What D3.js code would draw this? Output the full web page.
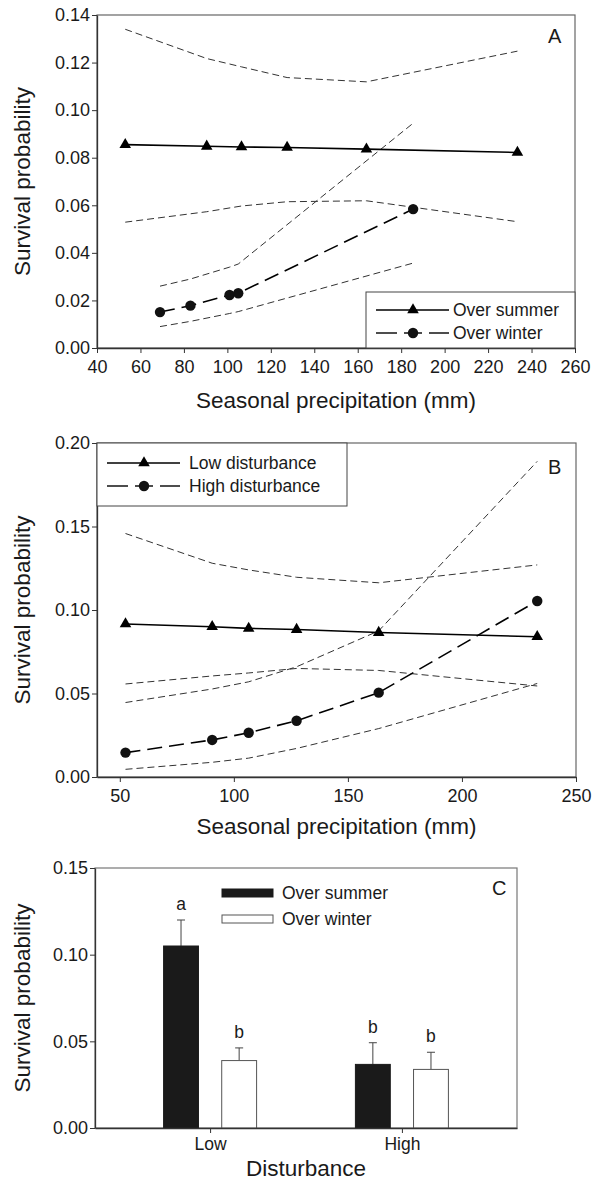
<!DOCTYPE html>
<html>
<head>
<meta charset="utf-8">
<script src="https://cdn.jsdelivr.net/npm/d3@7"></script>
<style>
  body { margin: 0; background: #fff; }
  svg text { font-family: "Liberation Sans", Arial, Helvetica, sans-serif; fill: #1a1a1a; }
</style>
</head>
<body>
<svg id="fig" width="599" height="1183"></svg>
<script>
// ---- panel A: survival vs seasonal precipitation, by season ----
const precipSummerA = [53, 90.5, 106.5, 127.5, 164, 233.5];
const survSummerA = [0.0855, 0.0848, 0.0845, 0.0843, 0.0836, 0.0822];
const summerUpperA = [0.134, 0.1217, 0.1182, 0.1137, 0.1119, 0.1248];
const summerLowerA = [0.0529, 0.0573, 0.0597, 0.0615, 0.0619, 0.0531];

const precipWinterA = [69, 83, 101, 105, 185.5];
const survWinterA = [0.0151, 0.0178, 0.0223, 0.0230, 0.0584];
const winterUpperA = [0.026, 0.029, 0.034, 0.0353, 0.0945];
const winterLowerA = [0.009, 0.0112, 0.0145, 0.0153, 0.0357];

const xTicksA = [40, 60, 80, 100, 120, 140, 160, 180, 200, 220, 240, 260];
const yTicksA = [0, 0.02, 0.04, 0.06, 0.08, 0.10, 0.12, 0.14];

// ---- panel B: survival vs seasonal precipitation, by disturbance ----
const precipB = [52.5, 90.5, 106.5, 127.5, 163.5, 233];
const survLowB = [0.0916, 0.0900, 0.0890, 0.0883, 0.0865, 0.0840];
const lowUpperB = [0.1458, 0.128, 0.124, 0.1196, 0.1163, 0.127];
const lowLowerB = [0.0557, 0.0605, 0.0623, 0.065, 0.0638, 0.0545];
const survHighB = [0.0146, 0.0222, 0.0265, 0.0337, 0.0505, 0.1054];
const highUpperB = [0.0446, 0.0527, 0.057, 0.066, 0.0875, 0.189];
const highLowerB = [0.0046, 0.0088, 0.0113, 0.0171, 0.029, 0.056];

const xTicksB = [50, 100, 150, 200, 250];
const yTicksB = [0, 0.05, 0.10, 0.15, 0.20];

// ---- panel C: bars by disturbance ----
const disturbance = ["Low", "High"];
const summerC = [0.105, 0.0367];
const summerErrC = [0.015, 0.0125];
const winterC = [0.0389, 0.0338];
const winterErrC = [0.0073, 0.0099];
const summerLetters = ["a", "b"];
const winterLetters = ["b", "b"];
const yTicksC = [0, 0.05, 0.10, 0.15];

const svg = d3.select("#fig");
const fmt = d3.format(".2f");

function styleAxis(g, size) {
  g.attr("font-family", "Liberation Sans, Arial, sans-serif")
    .attr("font-size", size)
    .attr("color", "#1a1a1a");
  g.selectAll("line").attr("stroke", "#333");
  g.selectAll("path").attr("stroke", "#333").attr("stroke-width", 1.3);
}

function drawLinePanel(p) {
  const x = d3.scaleLinear().domain(p.xDomain).range([p.left, p.right]);
  const y = d3.scaleLinear().domain(p.yDomain).range([p.bottom, p.top]);
  const g = svg.append("g");
  const line = d3.line().x(d => x(d[0])).y(d => y(d[1]));

  g.append("rect")
    .attr("x", p.left).attr("y", p.top)
    .attr("width", p.right - p.left).attr("height", p.bottom - p.top)
    .attr("fill", "none").attr("stroke", "#666").attr("stroke-width", 1.2);

  // confidence bands
  p.bands.forEach(b => {
    g.append("path")
      .datum(d3.zip(b.x, b.y))
      .attr("d", line)
      .attr("fill", "none")
      .attr("stroke", "#333")
      .attr("stroke-width", 1)
      .attr("stroke-dasharray", "7,4");
  });

  // fitted lines + points
  p.series.forEach(s => {
    const pts = d3.zip(s.x, s.y);
    g.append("path")
      .datum(pts)
      .attr("d", line)
      .attr("fill", "none")
      .attr("stroke", "#000")
      .attr("stroke-width", 1.6)
      .attr("stroke-dasharray", s.dash);
    if (s.symbol === "triangle") {
      g.selectAll(null).data(pts).join("path")
        .attr("transform", d => `translate(${x(d[0])},${y(d[1])})`)
        .attr("d", d3.symbol(d3.symbolTriangle, 58))
        .attr("fill", "#000");
    } else {
      g.selectAll(null).data(pts).join("circle")
        .attr("cx", d => x(d[0])).attr("cy", d => y(d[1]))
        .attr("r", 5.2)
        .attr("fill", "#111");
    }
  });

  g.append("g")
    .attr("transform", `translate(0,${p.bottom})`)
    .call(d3.axisBottom(x).tickValues(p.xTicks).tickSize(5).tickPadding(7).tickSizeOuter(0))
    .call(a => styleAxis(a, 18));
  g.append("g")
    .attr("transform", `translate(${p.left},0)`)
    .call(d3.axisLeft(y).tickValues(p.yTicks).tickFormat(fmt).tickSize(5).tickPadding(2).tickSizeOuter(0))
    .call(a => styleAxis(a, 18));

  g.append("text")
    .attr("x", (p.left + p.right) / 2).attr("y", p.xTitleY)
    .attr("text-anchor", "middle").attr("font-size", 22.5)
    .text("Seasonal precipitation (mm)");
  g.append("text")
    .attr("transform", `translate(30,${(p.top + p.bottom) / 2}) rotate(-90)`)
    .attr("text-anchor", "middle").attr("font-size", 22.5)
    .text("Survival probability");
  g.append("text")
    .attr("x", 548).attr("y", p.top + p.letterDy)
    .attr("font-size", 20)
    .text(p.letter);

  // legend
  const lg = p.legend;
  g.append("rect")
    .attr("x", lg.x0).attr("y", lg.y0)
    .attr("width", lg.x1 - lg.x0).attr("height", lg.y1 - lg.y0)
    .attr("fill", "#fff").attr("stroke", "#444").attr("stroke-width", 1);
  lg.items.forEach((it, i) => {
    const cy = lg.rowY[i];
    const lx0 = lg.lineX0, lx1 = lg.lineX0 + 73, mx = lg.lineX0 + 37;
    if (it.symbol === "triangle") {
      g.append("line").attr("x1", lx0).attr("x2", lx1).attr("y1", cy).attr("y2", cy)
        .attr("stroke", "#000").attr("stroke-width", 1.4);
      g.append("path").attr("transform", `translate(${mx},${cy})`)
        .attr("d", d3.symbol(d3.symbolTriangle, 58)).attr("fill", "#000");
    } else {
      [[lx0, mx - 16], [mx + 16, lx1]].forEach(seg => {
        g.append("line").attr("x1", seg[0]).attr("x2", seg[1]).attr("y1", cy).attr("y2", cy)
          .attr("stroke", "#000").attr("stroke-width", 1.4);
      });
      g.append("line").attr("x1", mx - 9).attr("x2", mx + 9).attr("y1", cy).attr("y2", cy)
        .attr("stroke", "#000").attr("stroke-width", 1.4);
      g.append("circle").attr("cx", mx).attr("cy", cy).attr("r", 5.2).attr("fill", "#111");
    }
    g.append("text")
      .attr("x", lg.textX).attr("y", cy).attr("dy", "0.36em")
      .attr("font-size", 17.5)
      .text(it.label);
  });
}

drawLinePanel({
  left: 97, right: 575, top: 15, bottom: 348,
  xDomain: [40, 260], yDomain: [0, 0.14],
  xTicks: xTicksA, yTicks: yTicksA,
  xTitleY: 408, letter: "A", letterDy: 28,
  bands: [
    {x: precipSummerA, y: summerUpperA},
    {x: precipSummerA, y: summerLowerA},
    {x: precipWinterA, y: winterUpperA},
    {x: precipWinterA, y: winterLowerA}
  ],
  series: [
    {x: precipSummerA, y: survSummerA, symbol: "triangle", dash: null},
    {x: precipWinterA, y: survWinterA, symbol: "circle", dash: "15,7"}
  ],
  legend: {
    x0: 366, x1: 575, y0: 292, y1: 348,
    lineX0: 376, textX: 453, rowY: [310, 333],
    items: [{label: "Over summer", symbol: "triangle"}, {label: "Over winter", symbol: "circle"}]
  }
});

drawLinePanel({
  left: 97, right: 576, top: 443, bottom: 777,
  xDomain: [40, 250], yDomain: [0, 0.20],
  xTicks: xTicksB, yTicks: yTicksB,
  xTitleY: 834, letter: "B", letterDy: 31,
  bands: [
    {x: precipB, y: lowUpperB},
    {x: precipB, y: lowLowerB},
    {x: precipB, y: highUpperB},
    {x: precipB, y: highLowerB}
  ],
  series: [
    {x: precipB, y: survLowB, symbol: "triangle", dash: null},
    {x: precipB, y: survHighB, symbol: "circle", dash: "15,7"}
  ],
  legend: {
    x0: 97, x1: 347, y0: 443, y1: 506,
    lineX0: 107, textX: 189, rowY: [463, 486],
    items: [{label: "Low disturbance", symbol: "triangle"}, {label: "High disturbance", symbol: "circle"}]
  }
});

// ---- panel C ----
(function () {
  const left = 95, right = 517, top = 868, bottom = 1128;
  const x = d3.scalePoint().domain(disturbance).range([left, right]).padding(0.6);
  const sub = d3.scaleBand().domain(["summer", "winter"]).range([-46.5, 46.5]).paddingInner(0.4);
  const y = d3.scaleLinear().domain([0, 0.15]).range([bottom, top]);
  const g = svg.append("g");

  g.append("rect")
    .attr("x", left).attr("y", top).attr("width", right - left).attr("height", bottom - top)
    .attr("fill", "none").attr("stroke", "#777").attr("stroke-width", 1.2);

  const rows = disturbance.map((d, i) => [
    {cat: d, key: "summer", v: summerC[i], e: summerErrC[i], letter: summerLetters[i]},
    {cat: d, key: "winter", v: winterC[i], e: winterErrC[i], letter: winterLetters[i]}
  ]).flat();

  const bx = d => x(d.cat) + sub(d.key);
  const bw = sub.bandwidth();

  g.selectAll(".err").data(rows).join("line")
    .attr("x1", d => bx(d) + bw / 2).attr("x2", d => bx(d) + bw / 2)
    .attr("y1", d => y(d.v)).attr("y2", d => y(d.v + d.e))
    .attr("stroke", "#444").attr("stroke-width", 1);
  g.selectAll(".cap").data(rows).join("line")
    .attr("x1", d => bx(d) + bw / 2 - 4).attr("x2", d => bx(d) + bw / 2 + 4)
    .attr("y1", d => y(d.v + d.e)).attr("y2", d => y(d.v + d.e))
    .attr("stroke", "#444").attr("stroke-width", 1);

  g.selectAll(".bar").data(rows).join("rect")
    .attr("x", d => bx(d)).attr("width", bw)
    .attr("y", d => y(d.v)).attr("height", d => y(0) - y(d.v))
    .attr("fill", d => d.key === "summer" ? "#1a1a1a" : "#fff")
    .attr("stroke", d => d.key === "summer" ? "#1a1a1a" : "#555")
    .attr("stroke-width", 1);

  g.selectAll(".lett").data(rows).join("text")
    .attr("x", d => bx(d) + bw / 2).attr("y", d => y(d.v + d.e) - 10)
    .attr("text-anchor", "middle").attr("font-size", 17.5)
    .text(d => d.letter);

  g.append("g")
    .attr("transform", `translate(0,${bottom})`)
    .call(d3.axisBottom(x).tickSize(5).tickPadding(5).tickSizeOuter(0))
    .call(a => styleAxis(a, 17.5));
  g.append("g")
    .attr("transform", `translate(${left},0)`)
    .call(d3.axisLeft(y).tickValues(yTicksC).tickFormat(fmt).tickSize(5).tickPadding(2).tickSizeOuter(0))
    .call(a => styleAxis(a, 18));

  g.append("text")
    .attr("x", (left + right) / 2).attr("y", 1176)
    .attr("text-anchor", "middle").attr("font-size", 22.5)
    .text("Disturbance");
  g.append("text")
    .attr("transform", `translate(30,${(top + bottom) / 2}) rotate(-90)`)
    .attr("text-anchor", "middle").attr("font-size", 22.5)
    .text("Survival probability");
  g.append("text").attr("x", 492).attr("y", 895).attr("font-size", 20).text("C");

  // legend
  const leg = [{label: "Over summer", fill: "#1a1a1a", cy: 893}, {label: "Over winter", fill: "#fff", cy: 919}];
  leg.forEach(l => {
    g.append("rect").attr("x", 222).attr("y", l.cy - 4).attr("width", 51).attr("height", 8)
      .attr("fill", l.fill).attr("stroke", l.fill === "#fff" ? "#555" : "#1a1a1a");
    g.append("text").attr("x", 282).attr("y", l.cy).attr("dy", "0.36em")
      .attr("font-size", 17.5).text(l.label);
  });
})();
</script>
</body>
</html>
